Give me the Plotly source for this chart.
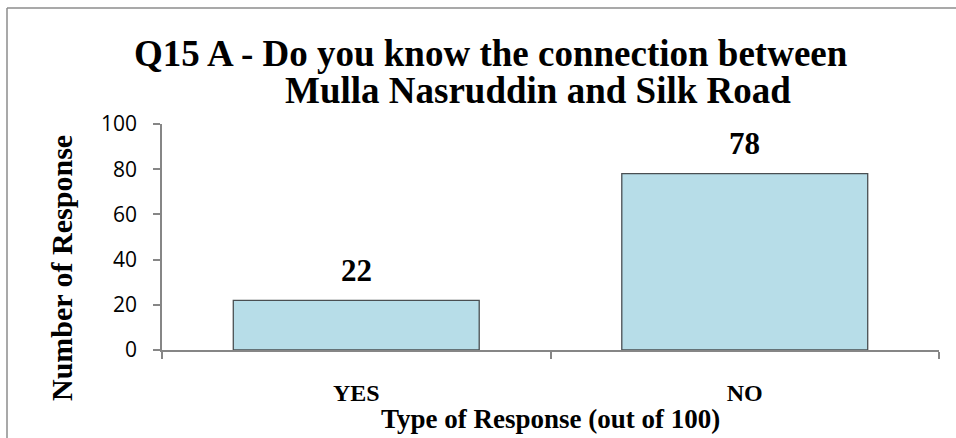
import plotly.graph_objects as go

# Survey answers for question Q15 A
categories = ["YES", "NO"]
responses = [22, 78]
y_ticks = [0, 20, 40, 60, 80, 100]

W, H = 956, 438
L, R, T, B = 162, 17, 124, 88
PW, PH = W - L - R, H - T - B

serif = "Liberation Serif"
sans = "Open Sans"


def px_x(px):
    return (px - L) / PW


def px_y(py):
    return (H - B - py) / PH


fig = go.Figure(
    go.Bar(
        x=categories,
        y=responses,
        marker=dict(color="#B7DDE8", line=dict(color="#4a4f52", width=1.3)),
        hoverinfo="x+y",
    )
)

# value labels above the bars
for c, v in zip(categories, responses):
    fig.add_annotation(
        x=c, y=v, text=f"<b>{v}</b>", showarrow=False,
        yanchor="middle", yshift=30,
        font=dict(family=serif, size=31, color="black"),
    )

# two-line chart title, second line indented
fig.add_annotation(
    xref="paper", yref="paper", x=px_x(491), y=px_y(53),
    text="<b>Q15 A - Do you know the connection between</b>",
    showarrow=False, xanchor="center", yanchor="middle",
    font=dict(family=serif, size=37, color="black"),
)
fig.add_annotation(
    xref="paper", yref="paper", x=px_x(538), y=px_y(90),
    text="<b>Mulla Nasruddin and Silk Road</b>",
    showarrow=False, xanchor="center", yanchor="middle",
    font=dict(family=serif, size=37, color="black"),
)

# axis titles
fig.add_annotation(
    xref="paper", yref="paper", x=px_x(61), y=px_y(268),
    text="<b>Number of Response</b>", textangle=-90,
    showarrow=False, xanchor="center", yanchor="middle",
    font=dict(family=serif, size=30, color="black"),
)
fig.add_annotation(
    xref="paper", yref="paper", x=px_x(550), y=px_y(419),
    text="<b>Type of Response (out of 100)</b>",
    showarrow=False, xanchor="center", yanchor="middle",
    font=dict(family=serif, size=27, color="black"),
)

# outer frame lines (top and left)
fig.add_shape(type="line", xref="paper", yref="paper",
              x0=px_x(7), x1=px_x(960), y0=px_y(8), y1=px_y(8),
              line=dict(color="#8c8c8c", width=1.5))
fig.add_shape(type="line", xref="paper", yref="paper",
              x0=px_x(7), x1=px_x(7), y0=px_y(8), y1=px_y(440),
              line=dict(color="#8c8c8c", width=1.5))

fig.update_layout(
    width=W, height=H,
    margin=dict(l=L, r=R, t=T, b=B, pad=0),
    paper_bgcolor="white", plot_bgcolor="white",
    bargap=0.367,
    showlegend=False,
    xaxis=dict(
        type="category",
        showline=True, linecolor="#868686", linewidth=1.5,
        ticks="outside", tickson="boundaries", ticklen=7,
        tickcolor="#868686", tickwidth=1.5,
        tickfont=dict(family=serif, size=24, color="black"),
        tickprefix="<b>", ticksuffix="</b>",
        ticklabelstandoff=20,
        showgrid=False, zeroline=False,
    ),
    yaxis=dict(
        range=[0, 100], tickvals=y_ticks,
        showline=True, linecolor="#868686", linewidth=1.5,
        ticks="outside", ticklen=7, tickcolor="#868686", tickwidth=1.5,
        tickfont=dict(family=sans, size=21, color="black"),
        ticklabelstandoff=12,
        showgrid=False, zeroline=False,
    ),
)

fig.write_html("out.html")
